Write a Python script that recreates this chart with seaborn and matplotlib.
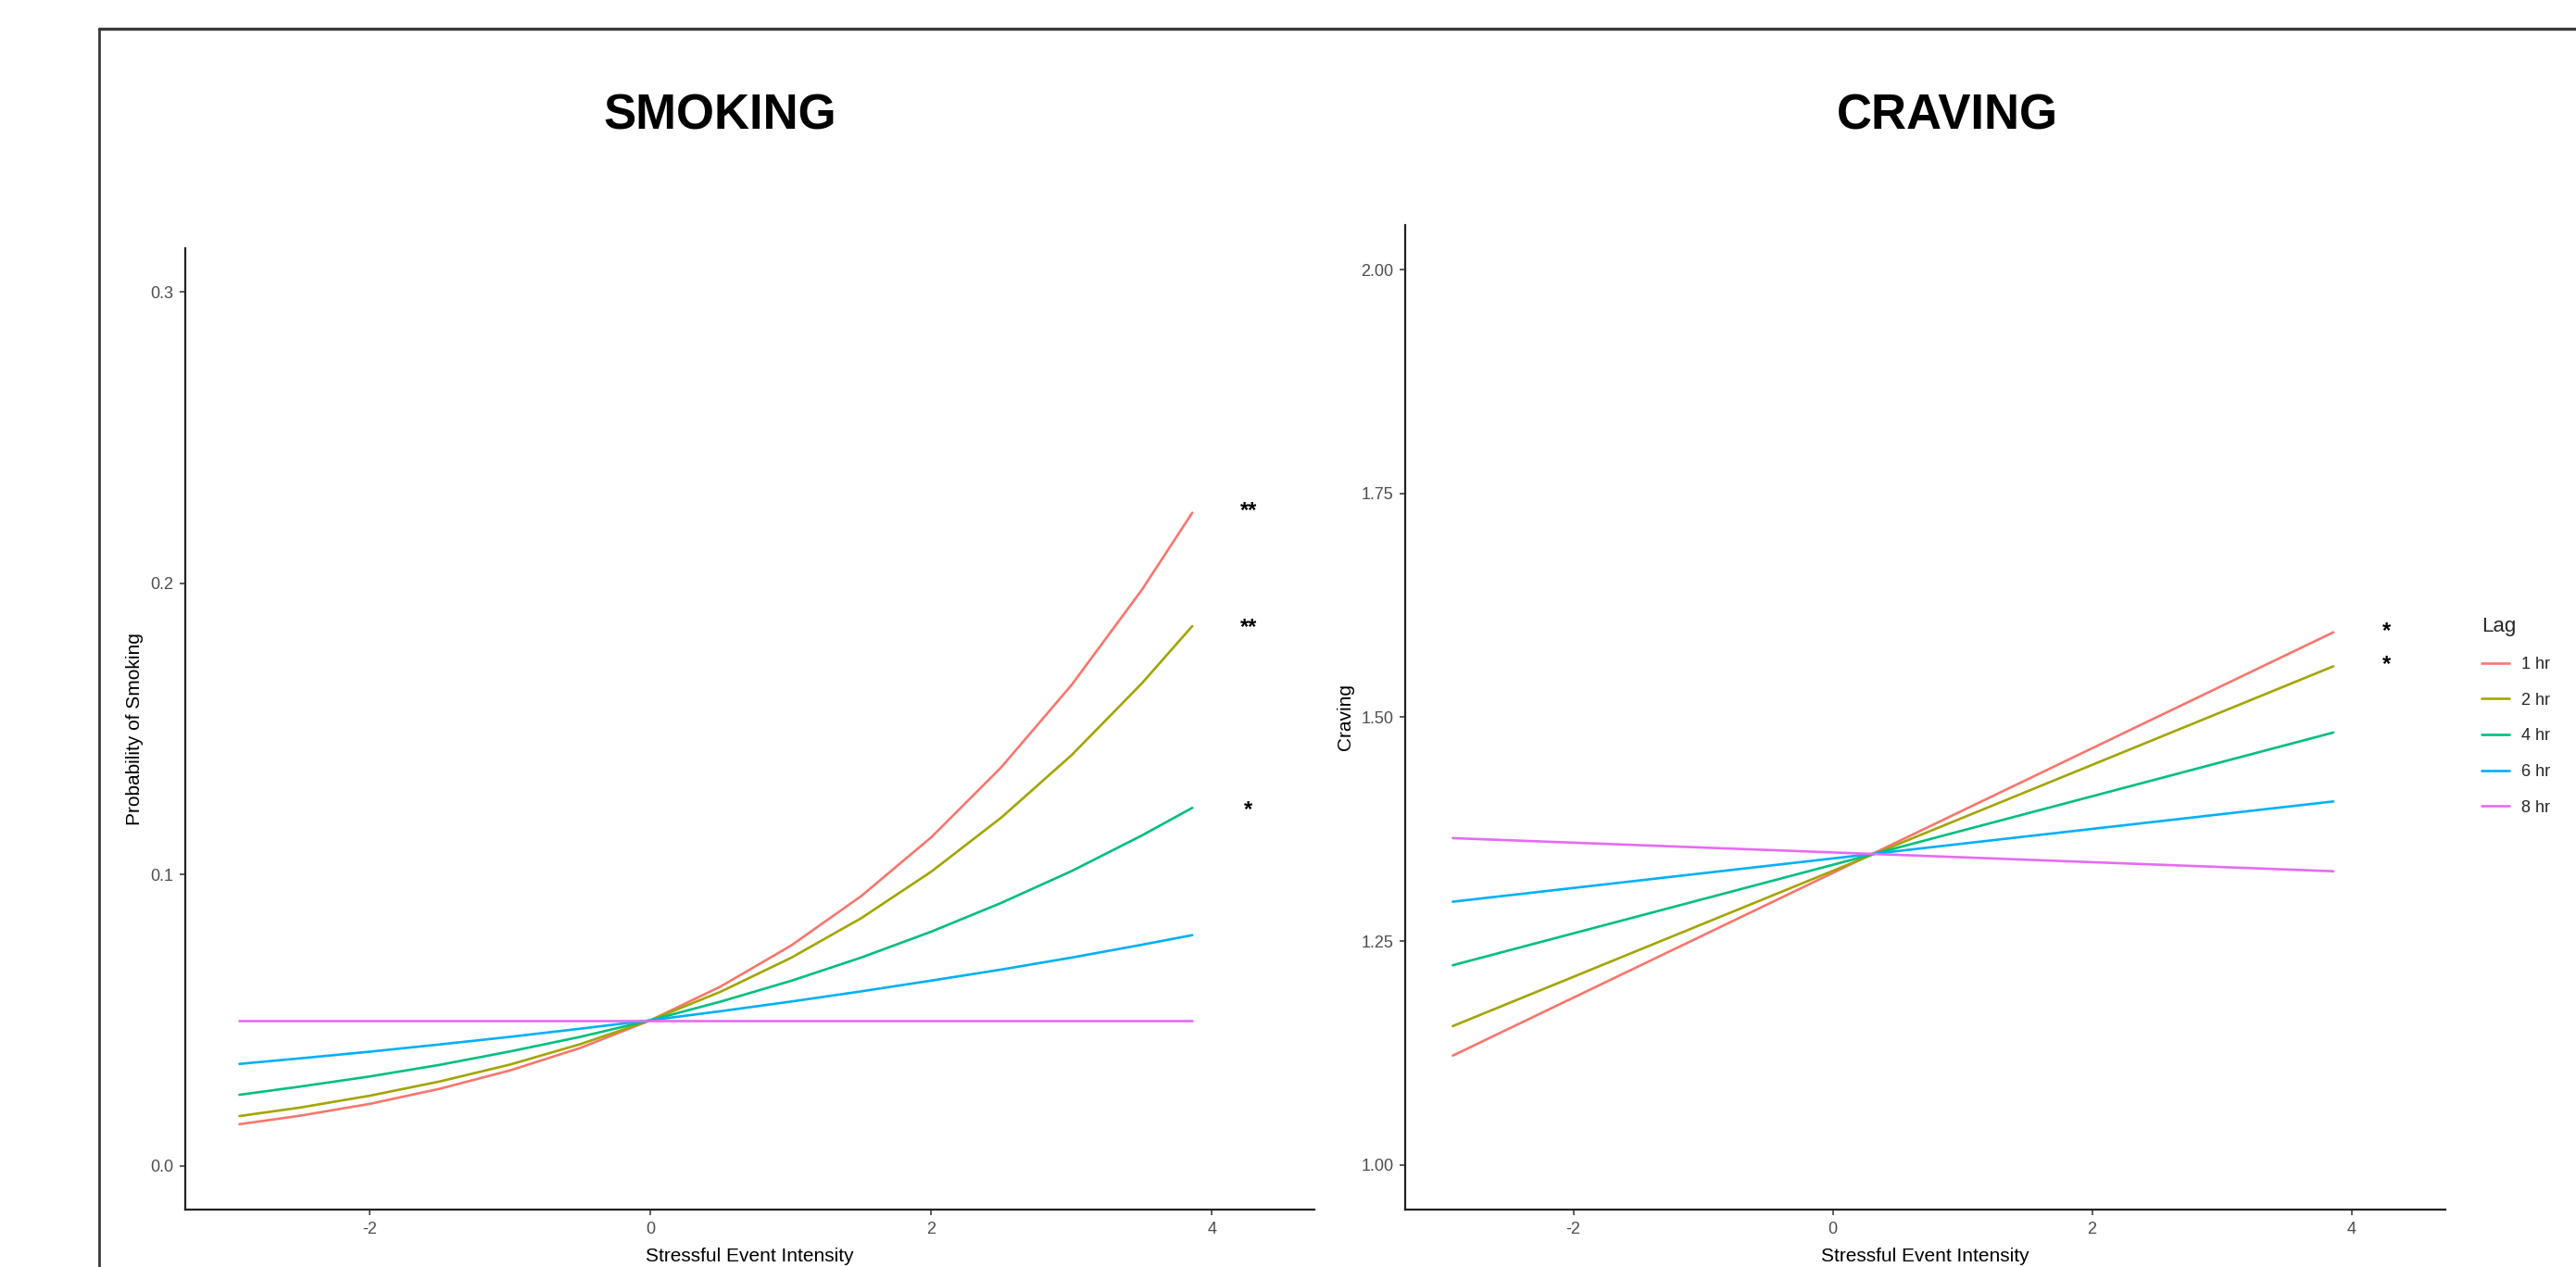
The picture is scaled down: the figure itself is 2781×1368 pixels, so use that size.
import matplotlib
matplotlib.use("Agg")
import matplotlib.pyplot as plt
import seaborn as sns
import pandas as pd
from matplotlib.lines import Line2D
from matplotlib import transforms

# data
lags = ["1 hr", "2 hr", "4 hr", "6 hr", "8 hr"]
lag_colors = ["#F8766D", "#A3A500", "#00BF7D", "#00B0F6", "#E76BF3"]

smoke_x = [-2.93, -2.5, -2.0, -1.5, -1.0, -0.5, 0.0, 0.5, 1.0, 1.5, 2.0, 2.5, 3.0, 3.5, 3.86]
smoke_1hr = [0.0143, 0.0172, 0.0213, 0.0265, 0.0328, 0.0405, 0.0500, 0.0616, 0.0756, 0.0926, 0.1128, 0.1369, 0.1651, 0.1977, 0.2242]
smoke_2hr = [0.0171, 0.0200, 0.0241, 0.0290, 0.0348, 0.0418, 0.0500, 0.0598, 0.0714, 0.0850, 0.1010, 0.1196, 0.1410, 0.1656, 0.1853]
smoke_4hr = [0.0244, 0.0272, 0.0307, 0.0347, 0.0393, 0.0443, 0.0500, 0.0564, 0.0635, 0.0715, 0.0804, 0.0903, 0.1012, 0.1134, 0.1229]
smoke_6hr = [0.0350, 0.0369, 0.0392, 0.0417, 0.0443, 0.0471, 0.0500, 0.0531, 0.0564, 0.0599, 0.0636, 0.0674, 0.0715, 0.0759, 0.0792]
smoke_8hr = [0.0500] * 15

craving_x = [-2.93, 3.86]
craving_1hr = [1.122, 1.595]
craving_2hr = [1.155, 1.557]
craving_4hr = [1.223, 1.483]
craving_6hr = [1.294, 1.406]
craving_8hr = [1.365, 1.328]

smoke_star_x = 4.26
smoke_star_y = [0.226, 0.186, 0.1235]
smoke_stars = ["**", "**", "*"]
craving_star_x = 4.27
craving_star_y = [1.600, 1.563]
craving_stars = ["*", "*"]


def to_long(x, series):
    rows = []
    for lag, ys in zip(lags, series):
        for xv, yv in zip(x, ys):
            rows.append({"x": xv, "y": yv, "Lag": lag})
    return pd.DataFrame(rows)


smoke_df = to_long(smoke_x, [smoke_1hr, smoke_2hr, smoke_4hr, smoke_6hr, smoke_8hr])
craving_df = to_long(craving_x, [craving_1hr, craving_2hr, craving_4hr, craving_6hr, craving_8hr])

sns.set_style("ticks")
plt.rcParams["font.family"] = ["Liberation Sans", "DejaVu Sans"]
plt.rcParams["axes.unicode_minus"] = False

W, H = 2781, 1368
fig = plt.figure(figsize=(W / 100, H / 100), dpi=100)

ax1 = fig.add_axes([200 / W, 1 - 1306 / H, 1219 / W, (1306 - 268) / H])
ax2 = fig.add_axes([1517 / W, 1 - 1306 / H, 1123 / W, (1306 - 243) / H])

sns.lineplot(data=smoke_df, x="x", y="y", hue="Lag", palette=lag_colors,
             hue_order=lags, linewidth=1.9, legend=False, ax=ax1)
sns.lineplot(data=craving_df, x="x", y="y", hue="Lag", palette=lag_colors,
             hue_order=lags, linewidth=1.9, legend=True, ax=ax2)


def style_axis(ax, xlim, ylim, yticks, yfmt, ylabel):
    ax.set_xlim(*xlim)
    ax.set_ylim(*ylim)
    ax.set_xticks([-2, 0, 2, 4])
    ax.set_xticklabels(["-2", "0", "2", "4"])
    ax.set_yticks(yticks)
    ax.set_yticklabels([yfmt.format(v) for v in yticks])
    ax.set_xlabel("Stressful Event Intensity", fontsize=15, color="black", labelpad=8)
    ax.set_ylabel(ylabel, fontsize=15, color="black", labelpad=5)
    for side in ["top", "right"]:
        ax.spines[side].set_visible(False)
    for side in ["left", "bottom"]:
        ax.spines[side].set_linewidth(1.6)
        ax.spines[side].set_color("#222222")
    ax.tick_params(axis="both", length=4, width=1.1, color="#333333",
                   labelsize=13, labelcolor="#4D4D4D", pad=5)
    ax.grid(False)


style_axis(ax1, (-3.316, 4.73), (-0.015, 0.315), [0.0, 0.1, 0.2, 0.3], "{:.1f}",
           "Probability of Smoking")
style_axis(ax2, (-3.297, 4.724), (0.95, 2.05), [1.00, 1.25, 1.50, 1.75, 2.00], "{:.2f}",
           "Craving")

# significance stars (asterisk glyph sits high, shift it down a little)
shift = transforms.ScaledTranslation(0, -4 / 100, fig.dpi_scale_trans)
for yv, s in zip(smoke_star_y, smoke_stars):
    ax1.text(smoke_star_x, yv, s, ha="center", va="center", fontsize=17,
             fontweight="bold", color="black", transform=ax1.transData + shift)
for yv, s in zip(craving_star_y, craving_stars):
    ax2.text(craving_star_x, yv, s, ha="center", va="center", fontsize=17,
             fontweight="bold", color="black", transform=ax2.transData + shift)

leg = ax2.legend(title="Lag", loc="upper left", bbox_to_anchor=(1.02, 0.617),
                 frameon=False, fontsize=13, title_fontsize=16, handlelength=1.7,
                 handletextpad=0.7, labelspacing=1.2)
leg._legend_box.align = "left"
for line in leg.get_lines():
    line.set_linewidth(1.9)

fig.text(777 / W, 1 - 125 / H, "SMOKING", ha="center", va="center",
         fontsize=38, fontweight="bold", color="black")
fig.text(2102 / W, 1 - 125 / H, "CRAVING", ha="center", va="center",
         fontsize=38, fontweight="bold", color="black")

# outer frame (clipped at right and bottom in the original)
fig.add_artist(Line2D([107 / W, 1.0], [1 - 31 / H, 1 - 31 / H], color="#3a3a3a",
                      linewidth=2.4, transform=fig.transFigure))
fig.add_artist(Line2D([107 / W, 107 / W], [1 - 31 / H, 0.0], color="#3a3a3a",
                      linewidth=2.0, transform=fig.transFigure))

fig.savefig("out.png", dpi=100, facecolor="white")
